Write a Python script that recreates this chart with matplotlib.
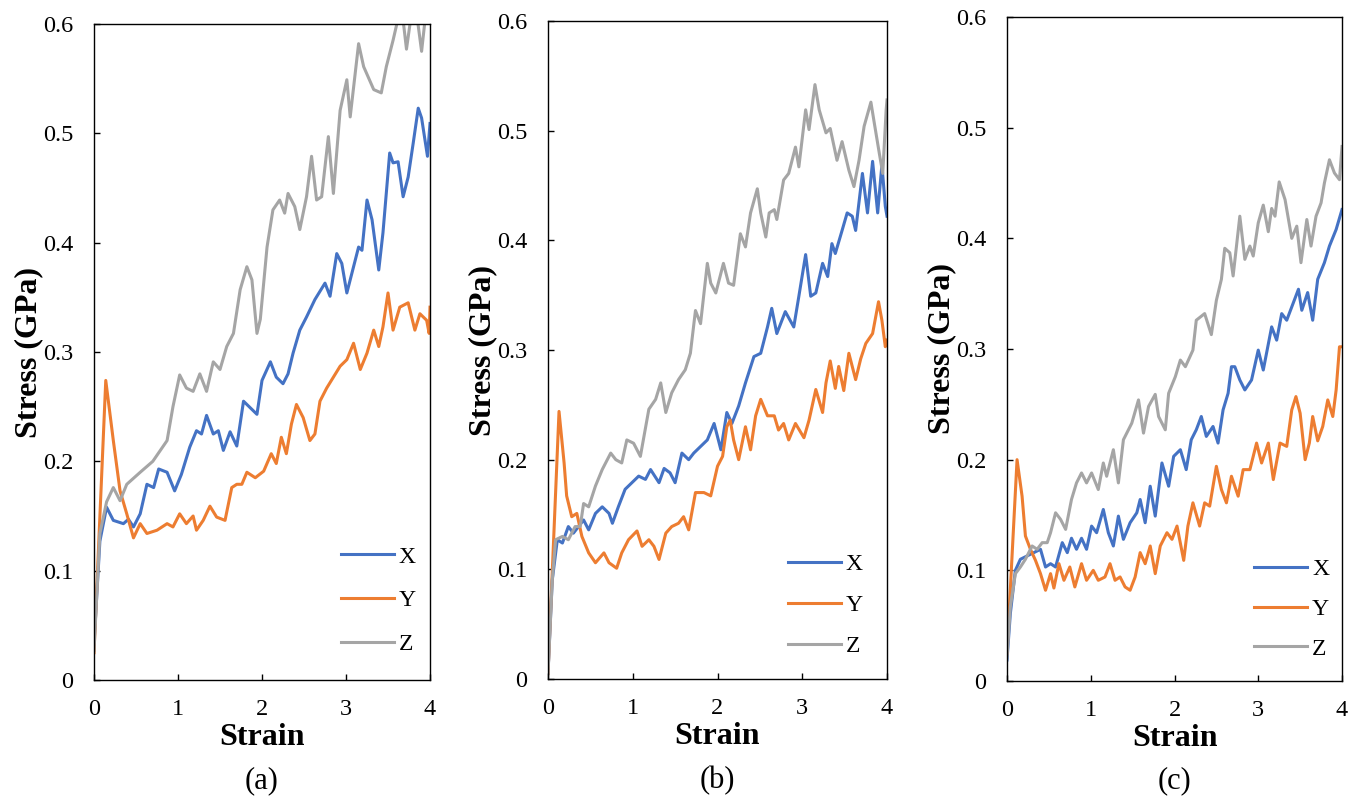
#!/usr/bin/env python3

import matplotlib
matplotlib.use("Agg")
import matplotlib.pyplot as plt
from matplotlib.ticker import FuncFormatter

# ---- Panel (a) ----
a_x_strain = [0, 0.07, 0.15, 0.23, 0.35, 0.41, 0.47, 0.55, 0.63, 0.71, 0.77, 0.87,
              0.96, 1.04, 1.14, 1.22, 1.28, 1.34, 1.42, 1.48, 1.54, 1.62, 1.70,
              1.78, 1.86, 1.94, 2.00, 2.10, 2.17, 2.25, 2.31, 2.37, 2.45, 2.53,
              2.63, 2.75, 2.81, 2.89, 2.95, 3.01, 3.09, 3.15, 3.19, 3.25, 3.31,
              3.39, 3.44, 3.52, 3.56, 3.62, 3.68, 3.74, 3.80, 3.86, 3.90, 3.97,
              4.0]
a_x_stress = [0.033, 0.127, 0.158, 0.146, 0.143, 0.147, 0.140, 0.152, 0.179, 0.176,
              0.193, 0.190, 0.173, 0.188, 0.213, 0.228, 0.225, 0.242, 0.225, 0.228,
              0.210, 0.227, 0.214, 0.255, 0.249, 0.243, 0.274, 0.291, 0.277, 0.271,
              0.280, 0.299, 0.320, 0.332, 0.348, 0.363, 0.351, 0.390, 0.381, 0.354,
              0.378, 0.396, 0.393, 0.439, 0.421, 0.375, 0.409, 0.482, 0.473, 0.474,
              0.442, 0.460, 0.491, 0.523, 0.514, 0.479, 0.509]

a_y_strain = [0, 0.14, 0.23, 0.31, 0.39, 0.47, 0.55, 0.63, 0.75, 0.87, 0.94, 1.02,
              1.10, 1.18, 1.22, 1.30, 1.38, 1.46, 1.56, 1.64, 1.70, 1.76, 1.82,
              1.92, 2.02, 2.11, 2.17, 2.23, 2.29, 2.35, 2.41, 2.49, 2.57, 2.63,
              2.69, 2.77, 2.85, 2.93, 3.01, 3.09, 3.17, 3.25, 3.33, 3.39, 3.44,
              3.50, 3.56, 3.64, 3.74, 3.82, 3.88, 3.96, 3.99, 4.0]
a_y_stress = [0.025, 0.274, 0.219, 0.173, 0.152, 0.130, 0.143, 0.134, 0.137, 0.143,
              0.140, 0.152, 0.143, 0.150, 0.137, 0.146, 0.159, 0.149, 0.146, 0.176,
              0.179, 0.179, 0.190, 0.185, 0.191, 0.207, 0.198, 0.222, 0.207, 0.234,
              0.252, 0.240, 0.219, 0.225, 0.255, 0.267, 0.277, 0.287, 0.293, 0.308,
              0.284, 0.299, 0.320, 0.305, 0.323, 0.354, 0.320, 0.341, 0.345, 0.320,
              0.335, 0.329, 0.317, 0.341]

a_z_strain = [0, 0.07, 0.15, 0.23, 0.31, 0.39, 0.55, 0.70, 0.87, 0.94, 1.02, 1.10,
              1.18, 1.26, 1.34, 1.42, 1.50, 1.58, 1.66, 1.74, 1.82, 1.88, 1.94,
              1.98, 2.06, 2.13, 2.21, 2.27, 2.31, 2.39, 2.45, 2.53, 2.59, 2.65,
              2.71, 2.79, 2.85, 2.93, 3.01, 3.05, 3.15, 3.21, 3.33, 3.42, 3.48,
              3.56, 3.62, 3.67, 3.72, 3.78, 3.84, 3.90, 3.95, 4.0]
a_z_stress = [0.027, 0.134, 0.163, 0.176, 0.164, 0.179, 0.190, 0.200, 0.219, 0.250,
              0.279, 0.267, 0.264, 0.280, 0.264, 0.291, 0.284, 0.305, 0.317, 0.357,
              0.378, 0.366, 0.317, 0.330, 0.396, 0.430, 0.439, 0.427, 0.445, 0.433,
              0.412, 0.442, 0.479, 0.439, 0.442, 0.497, 0.445, 0.521, 0.549, 0.515,
              0.582, 0.561, 0.540, 0.537, 0.561, 0.585, 0.605, 0.610, 0.577, 0.610,
              0.610, 0.575, 0.610, 0.610]

# ---- Panel (b) ----
b_x_strain = [0, 0.05, 0.11, 0.17, 0.24, 0.30, 0.36, 0.42, 0.48, 0.56, 0.64, 0.72,
              0.76, 0.83, 0.91, 0.99, 1.07, 1.15, 1.21, 1.31, 1.37, 1.44, 1.50,
              1.58, 1.66, 1.72, 1.80, 1.88, 1.96, 2.04, 2.11, 2.17, 2.25, 2.33,
              2.43, 2.51, 2.59, 2.64, 2.70, 2.80, 2.90, 2.96, 3.04, 3.10, 3.16,
              3.24, 3.30, 3.35, 3.39, 3.47, 3.53, 3.59, 3.63, 3.71, 3.77, 3.83,
              3.89, 3.94, 3.98, 4.0]
b_x_stress = [0.005, 0.090, 0.127, 0.124, 0.139, 0.133, 0.139, 0.145, 0.136, 0.151,
              0.157, 0.151, 0.142, 0.157, 0.173, 0.179, 0.185, 0.182, 0.191, 0.179,
              0.192, 0.188, 0.179, 0.206, 0.200, 0.206, 0.212, 0.218, 0.233, 0.209,
              0.243, 0.233, 0.249, 0.270, 0.294, 0.297, 0.321, 0.338, 0.315, 0.335,
              0.321, 0.349, 0.387, 0.349, 0.352, 0.379, 0.367, 0.397, 0.388, 0.409,
              0.425, 0.422, 0.409, 0.461, 0.425, 0.472, 0.425, 0.469, 0.431, 0.422]

b_y_strain = [0, 0.13, 0.19, 0.22, 0.28, 0.34, 0.40, 0.48, 0.56, 0.66, 0.72, 0.81,
              0.87, 0.95, 1.05, 1.11, 1.19, 1.25, 1.31, 1.39, 1.46, 1.54, 1.60,
              1.66, 1.74, 1.84, 1.92, 2.00, 2.06, 2.11, 2.15, 2.19, 2.25, 2.33,
              2.39, 2.45, 2.51, 2.59, 2.67, 2.72, 2.78, 2.84, 2.92, 3.02, 3.08,
              3.16, 3.24, 3.28, 3.33, 3.39, 3.43, 3.49, 3.55, 3.63, 3.69, 3.75,
              3.83, 3.90, 3.94, 3.98, 4.0]
b_y_stress = [0.005, 0.244, 0.197, 0.167, 0.148, 0.151, 0.130, 0.115, 0.106, 0.115,
              0.106, 0.101, 0.115, 0.127, 0.135, 0.121, 0.127, 0.121, 0.109, 0.133,
              0.139, 0.142, 0.148, 0.136, 0.170, 0.170, 0.167, 0.194, 0.203, 0.230,
              0.236, 0.218, 0.200, 0.230, 0.209, 0.240, 0.255, 0.240, 0.240, 0.227,
              0.233, 0.218, 0.233, 0.220, 0.236, 0.264, 0.243, 0.270, 0.290, 0.265,
              0.285, 0.263, 0.297, 0.273, 0.292, 0.306, 0.315, 0.344, 0.327, 0.303,
              0.309]

b_z_strain = [0, 0.05, 0.09, 0.17, 0.24, 0.32, 0.38, 0.42, 0.48, 0.56, 0.64, 0.74,
              0.80, 0.87, 0.93, 1.01, 1.09, 1.19, 1.27, 1.33, 1.39, 1.46, 1.54,
              1.62, 1.68, 1.74, 1.80, 1.88, 1.92, 1.98, 2.07, 2.13, 2.19, 2.27,
              2.33, 2.39, 2.47, 2.51, 2.57, 2.61, 2.67, 2.70, 2.78, 2.84, 2.92,
              2.96, 3.04, 3.08, 3.15, 3.20, 3.28, 3.33, 3.41, 3.47, 3.55, 3.61,
              3.67, 3.73, 3.81, 3.85, 3.91, 3.95, 3.99, 4.0]
b_z_stress = [0.005, 0.090, 0.127, 0.130, 0.127, 0.139, 0.139, 0.160, 0.157, 0.176,
              0.191, 0.206, 0.200, 0.197, 0.218, 0.215, 0.203, 0.246, 0.255, 0.270,
              0.243, 0.261, 0.273, 0.282, 0.297, 0.336, 0.324, 0.379, 0.361, 0.352,
              0.379, 0.361, 0.359, 0.406, 0.394, 0.425, 0.447, 0.425, 0.403, 0.425,
              0.428, 0.419, 0.455, 0.461, 0.485, 0.467, 0.519, 0.501, 0.542, 0.519,
              0.498, 0.502, 0.473, 0.490, 0.464, 0.449, 0.473, 0.504, 0.526, 0.507,
              0.479, 0.461, 0.519, 0.528]

# ---- Panel (c) ----
c_x_strain = [0, 0.04, 0.10, 0.16, 0.24, 0.32, 0.40, 0.46, 0.52, 0.58, 0.66, 0.72,
              0.77, 0.83, 0.89, 0.95, 1.01, 1.07, 1.15, 1.21, 1.27, 1.33, 1.39,
              1.47, 1.55, 1.59, 1.65, 1.71, 1.77, 1.85, 1.93, 1.99, 2.07, 2.14,
              2.20, 2.26, 2.32, 2.38, 2.46, 2.52, 2.58, 2.64, 2.68, 2.72, 2.78,
              2.84, 2.92, 3.00, 3.06, 3.16, 3.22, 3.28, 3.34, 3.42, 3.48, 3.52,
              3.59, 3.65, 3.71, 3.79, 3.85, 3.93, 4.0]
c_x_stress = [0.019, 0.061, 0.100, 0.110, 0.113, 0.116, 0.119, 0.103, 0.106, 0.103,
              0.125, 0.116, 0.129, 0.119, 0.129, 0.119, 0.140, 0.134, 0.155, 0.134,
              0.122, 0.149, 0.128, 0.143, 0.152, 0.164, 0.143, 0.176, 0.149, 0.197,
              0.176, 0.203, 0.209, 0.191, 0.218, 0.227, 0.239, 0.221, 0.230, 0.215,
              0.245, 0.260, 0.284, 0.284, 0.272, 0.263, 0.272, 0.299, 0.281, 0.320,
              0.308, 0.332, 0.326, 0.342, 0.354, 0.335, 0.351, 0.326, 0.363, 0.378,
              0.393, 0.408, 0.426]

c_y_strain = [0, 0.12, 0.18, 0.22, 0.28, 0.34, 0.40, 0.46, 0.52, 0.56, 0.62, 0.68,
              0.75, 0.81, 0.89, 0.95, 1.03, 1.09, 1.17, 1.23, 1.29, 1.35, 1.41,
              1.47, 1.53, 1.59, 1.65, 1.71, 1.77, 1.83, 1.91, 1.97, 2.03, 2.11,
              2.16, 2.22, 2.30, 2.36, 2.42, 2.50, 2.56, 2.62, 2.68, 2.76, 2.82,
              2.90, 2.98, 3.04, 3.12, 3.18, 3.26, 3.34, 3.40, 3.45, 3.50, 3.56,
              3.61, 3.65, 3.71, 3.77, 3.83, 3.89, 3.93, 3.97, 4.0]
c_y_stress = [0.025, 0.200, 0.167, 0.131, 0.119, 0.109, 0.097, 0.082, 0.097, 0.084,
              0.106, 0.091, 0.103, 0.085, 0.106, 0.091, 0.100, 0.091, 0.094, 0.106,
              0.091, 0.094, 0.085, 0.082, 0.094, 0.116, 0.106, 0.122, 0.097, 0.122,
              0.134, 0.128, 0.140, 0.109, 0.140, 0.161, 0.140, 0.161, 0.158, 0.194,
              0.173, 0.161, 0.185, 0.167, 0.191, 0.191, 0.215, 0.197, 0.215, 0.182,
              0.215, 0.212, 0.245, 0.257, 0.242, 0.200, 0.215, 0.239, 0.217, 0.230,
              0.254, 0.239, 0.263, 0.302, 0.302]

c_z_strain = [0, 0.04, 0.10, 0.16, 0.22, 0.30, 0.36, 0.42, 0.48, 0.52, 0.58, 0.64,
              0.70, 0.77, 0.83, 0.89, 0.95, 1.01, 1.09, 1.15, 1.19, 1.27, 1.33,
              1.39, 1.49, 1.57, 1.63, 1.69, 1.77, 1.81, 1.89, 1.93, 2.01, 2.07,
              2.13, 2.22, 2.26, 2.36, 2.44, 2.50, 2.56, 2.60, 2.66, 2.70, 2.78,
              2.84, 2.90, 2.94, 3.00, 3.06, 3.12, 3.16, 3.20, 3.25, 3.32, 3.40,
              3.46, 3.51, 3.58, 3.63, 3.69, 3.75, 3.79, 3.85, 3.91, 3.97, 4.0]
c_z_stress = [0.022, 0.067, 0.097, 0.103, 0.110, 0.122, 0.119, 0.125, 0.125, 0.134,
              0.152, 0.146, 0.137, 0.164, 0.179, 0.188, 0.179, 0.188, 0.173, 0.197,
              0.185, 0.209, 0.179, 0.218, 0.233, 0.254, 0.224, 0.248, 0.259, 0.239,
              0.227, 0.260, 0.275, 0.290, 0.284, 0.299, 0.326, 0.332, 0.313, 0.344,
              0.363, 0.391, 0.387, 0.366, 0.420, 0.381, 0.393, 0.384, 0.414, 0.430,
              0.406, 0.427, 0.420, 0.451, 0.435, 0.400, 0.411, 0.378, 0.417, 0.393,
              0.420, 0.432, 0.450, 0.471, 0.459, 0.453, 0.483]

series_labels = ["X", "Y", "Z"]
series_colors = ["#4472C4", "#ED7D31", "#A5A5A5"]
panel_tags = ["(a)", "(b)", "(c)"]


def ft_draw_panel(fig, rect, curves, tag, legend_anchor, legend_gap) -> None:
    """
    Draws one stress-strain panel with its three curves and legend.
    """
    ax = fig.add_axes(rect)
    for (strain, stress), label, color in zip(curves, series_labels,
                                              series_colors):
        ax.plot(strain, stress, color=color, lw=2.2, label=label)

    ax.set_xlim(0, 4)
    ax.set_ylim(0, 0.6)
    ax.set_xticks([0, 1, 2, 3, 4])
    ax.set_yticks([0, 0.1, 0.2, 0.3, 0.4, 0.5, 0.6])
    ax.yaxis.set_major_formatter(FuncFormatter(lambda v, p: f"{v:g}"))
    ax.tick_params(direction="in", length=4, width=1, labelsize=17.5,
                   colors="black")
    ax.tick_params(axis="y", pad=15)
    ax.tick_params(axis="x", pad=14)
    for spine in ax.spines.values():
        spine.set_color("black")
        spine.set_linewidth(1.0)

    ax.set_xlabel("Strain", fontsize=23, fontweight="bold", labelpad=2)
    ax.set_ylabel("Stress (GPa)", fontsize=23, fontweight="bold", labelpad=0)

    ax.legend(loc="lower right", bbox_to_anchor=legend_anchor, frameon=False,
              fontsize=17, handlelength=2.25, handletextpad=0.2,
              labelspacing=legend_gap, borderpad=0, borderaxespad=0)

    x_mid = rect[0] + rect[2] / 2
    fig.text(x_mid, 0.019, tag, ha="center", va="center", fontsize=22)


def ft_main() -> None:
    """
    Builds the three-panel figure and saves it as out.png.
    """
    plt.rcParams["font.family"] = ["Liberation Serif", "DejaVu Serif"]
    fig = plt.figure(figsize=(13.6, 7.96), dpi=100)

    rects = [
        [94 / 1360, 116 / 796, 336 / 1360, 656 / 796],
        [548 / 1360, 117 / 796, 339 / 1360, 658 / 796],
        [1007 / 1360, 115 / 796, 335 / 1360, 664 / 796],
    ]
    panels = [
        [(a_x_strain, a_x_stress), (a_y_strain, a_y_stress),
         (a_z_strain, a_z_stress)],
        [(b_x_strain, b_x_stress), (b_y_strain, b_y_stress),
         (b_z_strain, b_z_stress)],
        [(c_x_strain, c_x_stress), (c_y_strain, c_y_stress),
         (c_z_strain, c_z_stress)],
    ]
    anchors = [(0.958, 0.038), (0.928, 0.033), (0.962, 0.032)]
    gaps = [0.94, 0.83, 0.77]

    for rect, curves, tag, anchor, gap in zip(rects, panels, panel_tags,
                                              anchors, gaps):
        ft_draw_panel(fig, rect, curves, tag, anchor, gap)

    fig.savefig("out.png", dpi=100)


if __name__ == "__main__":
    ft_main()
